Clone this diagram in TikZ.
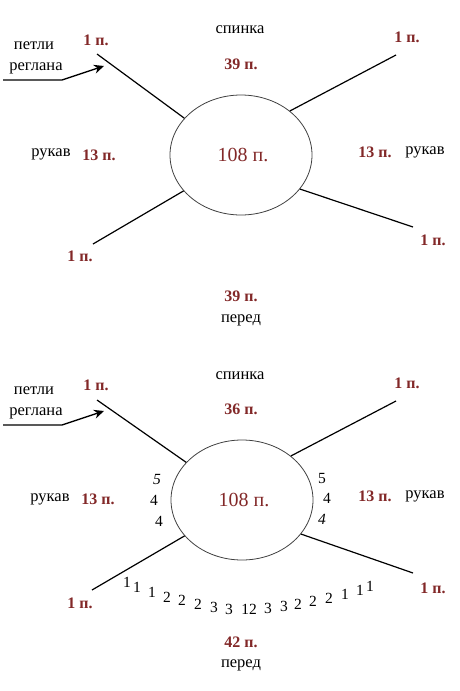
\documentclass[tikz,border=0pt]{standalone}
\usepackage{fontspec}
\setmainfont{Liberation Serif}
\usetikzlibrary{shapes.geometric,arrows.meta}
\definecolor{dred}{RGB}{130,40,40}
\begin{document}
\begin{tikzpicture}[x=1pt,y=-1pt,
  lbl/.style={font=\fontsize{16.5}{18}\selectfont, text=black, inner sep=0pt},
  num/.style={font=\fontsize{16}{18}\selectfont\bfseries, text=dred, inner sep=0pt},
  big/.style={font=\fontsize{20}{22}\selectfont, text=dred, inner sep=0pt},
  sm/.style={font=\fontsize{15.5}{17}\selectfont, inner sep=0pt},
  smit/.style={font=\fontsize{15.5}{17}\selectfont\itshape, inner sep=0pt},
  oval/.style={ellipse, draw=black!75, line width=0.8pt, minimum width=142pt, minimum height=120pt, inner sep=0pt},
  ray/.style={line width=1.2pt, black},
  pointer/.style={line width=1.4pt, -{Stealth[length=10pt,width=9pt]}}]
\useasboundingbox (0,0) rectangle (460,691);

% ---------- top diagram ----------
\node[oval] (e1) at (241,155) {};
\node[big] (c1) at (243,155) {108 п.};
\node[lbl] (sp1) at (240,30) {спинка};
\node[num] (n39a) at (241,64) {39 п.};
\node[lbl] (pt1) at (34,46) {петли};
\node[lbl] (rg1) at (36,68) {реглана};
\coordinate (a1s) at (3,80);
\coordinate (a1m) at (62,80);
\coordinate (a1e) at (104,66);
\draw[pointer] (a1s) -- (a1m) -- (a1e);
\node[num] (tl1) at (96,40) {1 п.};
\coordinate (tlend1) at (97,54);
\draw[ray] (tlend1) -- (e1.147);
\node[num] (tr1) at (407,37) {1 п.};
\coordinate (trend1) at (396,55);
\draw[ray] (trend1) -- (e1.42);
\node[lbl] (lr1) at (51,154) {рукав};
\node[num] (l13a) at (99,155) {13 п.};
\node[num] (r13a) at (375,152) {13 п.};
\node[lbl] (rr1) at (425,152) {рукав};
\coordinate (blend1) at (93,244);
\draw[ray] (blend1) -- (e1.212);
\node[num] (bl1) at (80,256) {1 п.};
\coordinate (brend1) at (413,227);
\draw[ray] (brend1) -- (e1.330);
\node[num] (br1) at (433,240) {1 п.};
\node[num] (n39b) at (241,296) {39 п.};
\node[lbl] (pr1) at (241,320) {перед};

% ---------- bottom diagram ----------
\node[oval] (e2) at (242,500) {};
\node[big] (c2) at (244,500) {108 п.};
\node[lbl] (sp2) at (240,376) {спинка};
\node[num] (n36) at (241,409) {36 п.};
\node[lbl] (pt2) at (34,391) {петли};
\node[lbl] (rg2) at (36,413) {реглана};
\coordinate (a2s) at (3,425);
\coordinate (a2m) at (62,425);
\coordinate (a2e) at (104,411);
\draw[pointer] (a2s) -- (a2m) -- (a2e);
\node[num] (tl2) at (96,385) {1 п.};
\coordinate (tlend2) at (97,400);
\draw[ray] (tlend2) -- (e2.146);
\node[num] (tr2) at (407,383) {1 п.};
\coordinate (trend2) at (396,401);
\draw[ray] (trend2) -- (e2.42);
\node[lbl] (lr2) at (50,499) {рукав};
\node[num] (l13b) at (98,499) {13 п.};
\node[num] (r13b) at (375,496) {13 п.};
\node[lbl] (rr2) at (425,496) {рукав};
\node[smit] (l5) at (157,479) {5};
\node[sm] (l4a) at (154,500) {4};
\node[sm] (l4b) at (159,521) {4};
\node[sm] (r5) at (322,478) {5};
\node[sm] (r4a) at (327,498) {4};
\node[smit] (r4b) at (322,519) {4};
\coordinate (blend2) at (92,590);
\draw[ray] (blend2) -- (e2.212);
\node[num] (bl2) at (80,603) {1 п.};
\coordinate (brend2) at (413,573);
\draw[ray] (brend2) -- (e2.330);
\node[num] (br2) at (433,588) {1 п.};
% stitch distribution along the front
\foreach \x/\y/\t [count=\i] in {127/582/1,137/587/1,152/592/1,167/597/2,182/600/2,198/604/2,214/607/3,229/609/3,249/609/12,268/608/3,284/606/3,298/604/2,313/601/2,329/598/2,345/594/1,360/590/1,370/586/1}
  \node[sm] (d\i) at (\x,\y) {\t};
\node[num] (n42) at (241,642) {42 п.};
\node[lbl] (pr2) at (241,665) {перед};
\end{tikzpicture}
\end{document}
